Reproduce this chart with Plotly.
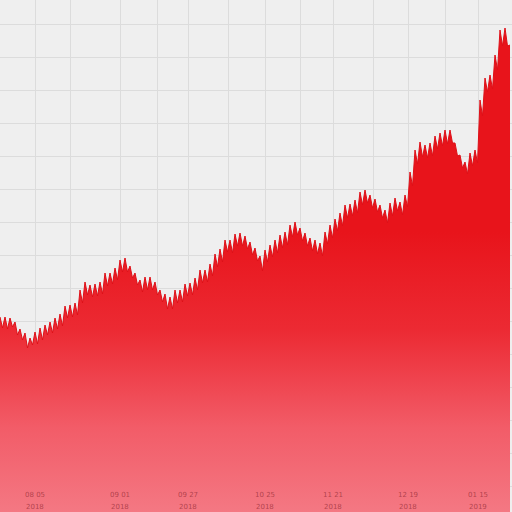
import plotly.graph_objects as go

# closing level and intraday low for each period
close = [195, 195, 194, 190, 183, 179, 174, 180, 184, 187, 190, 194, 198, 206, 207, 209,
         222, 230, 227, 228, 230, 239, 239, 244, 252, 254, 246, 239, 232, 235, 235, 230,
         222, 218, 215, 222, 222, 228, 229, 234, 242, 242, 248, 258, 263, 272, 272, 278,
         279, 276, 270, 264, 256, 262, 267, 272, 277, 280, 287, 290, 284, 279, 274, 272,
         269, 280, 287, 293, 299, 307, 308, 312, 320, 322, 317, 313, 307, 302, 309, 314,
         310, 317, 340, 362, 370, 367, 369, 376, 379, 382, 382, 369, 357, 350, 359, 362,
         412, 434, 437, 457, 482, 484, 467]
low = [184, 183, 185, 177, 172, 164, 167, 168, 172, 177, 179, 183, 186, 194, 195, 197,
       209, 217, 215, 216, 218, 226, 228, 232, 240, 240, 234, 227, 220, 222, 222, 217,
       210, 203, 203, 209, 210, 216, 217, 222, 229, 230, 236, 245, 250, 260, 259, 266,
       266, 263, 257, 251, 241, 250, 255, 259, 264, 267, 275, 277, 271, 266, 261, 258,
       256, 268, 274, 281, 286, 294, 296, 299, 307, 309, 304, 300, 294, 289, 296, 301,
       297, 305, 326, 348, 355, 354, 356, 363, 366, 368, 369, 356, 344, 338, 346, 349,
       396, 420, 423, 442, 466, 466, 454]

tick_pos = [7, 24, 37.6, 53, 66.6, 81.6, 95.6]
minor_pos = [14, 31.4, 45.6, 60, 74.6, 89]
tick_day = ['08 05', '09 01', '09 27', '10 25', '11 21', '12 19', '01 15']
tick_year = ['2018', '2018', '2018', '2018', '2018', '2018', '2019']

# interleave close and low so the edge gets its small teeth
xs, ys = [], []
for i, (c, l) in enumerate(zip(close, low)):
    xs += [i, i + 0.5]
    ys += [c, l]
xs = xs[:-1]
ys = ys[:-1]

fig = go.Figure()
fig.add_trace(go.Scatter(
    x=xs, y=ys, mode='lines', fill='tozeroy',
    line=dict(color='#de1018', width=1),
    fillgradient=dict(
        type='vertical', start=0, stop=280,
        colorscale=[[0, '#f47883'], [0.3, '#f25c68'], [0.65, '#ec2a33'], [1, '#e8141b']],
    ),
    hoverinfo='skip', showlegend=False,
))

label_font = dict(family='DejaVu Sans', size=7, color='rgba(120,20,30,0.55)')
for pos, day, year in zip(tick_pos, tick_day, tick_year):
    fig.add_annotation(x=pos, y=0.033, xref='x', yref='paper', yanchor='middle',
                       text=day, showarrow=False, font=label_font)
    fig.add_annotation(x=pos, y=0.009, xref='x', yref='paper', yanchor='middle',
                       text=year, showarrow=False, font=label_font)

fig.update_xaxes(
    range=[0, 102.4], showgrid=True, gridcolor='#dcdcdc', gridwidth=1,
    zeroline=False, showline=False, showticklabels=False,
    tickmode='array', tickvals=tick_pos, ticks='',
    minor=dict(tickmode='array', tickvals=minor_pos, showgrid=True,
               gridcolor='#dcdcdc', gridwidth=1, ticks=''),
)
fig.update_yaxes(
    range=[0, 512], showgrid=True, gridcolor='#dcdcdc', gridwidth=1,
    dtick=33, tick0=26, zeroline=False, showline=False, showticklabels=False,
)
fig.update_layout(
    width=512, height=512,
    margin=dict(l=0, r=0, t=0, b=0, pad=0, autoexpand=False),
    paper_bgcolor='#efefef', plot_bgcolor='#efefef',
)

fig.write_html('out.html', config={'displayModeBar': False},
               post_script="document.body.style.margin='0';")
